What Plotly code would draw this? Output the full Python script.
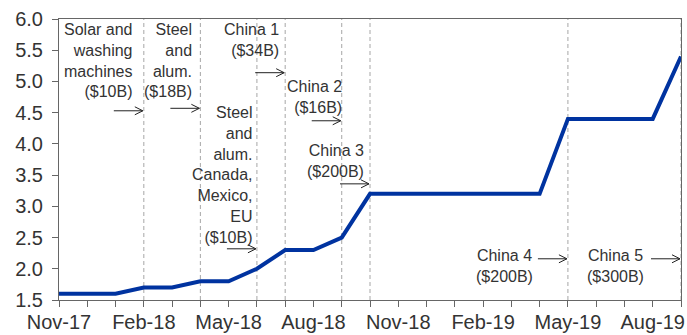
import plotly.graph_objects as go

months = ["Nov-17", "Dec-17", "Jan-18", "Feb-18", "Mar-18", "Apr-18", "May-18",
          "Jun-18", "Jul-18", "Aug-18", "Sep-18", "Oct-18", "Nov-18", "Dec-18",
          "Jan-19", "Feb-19", "Mar-19", "Apr-19", "May-19", "Jun-19", "Jul-19",
          "Aug-19", "Sep-19"]
values = [1.6, 1.6, 1.6, 1.7, 1.7, 1.8, 1.8, 2.0, 2.3, 2.3, 2.5, 3.2, 3.2, 3.2,
          3.2, 3.2, 3.2, 3.2, 4.4, 4.4, 4.4, 4.4, 5.4]
tick_labels = ["Nov-17", "Feb-18", "May-18", "Aug-18", "Nov-18", "Feb-19", "May-19", "Aug-19"]

event_months = ["Feb-18", "Apr-18", "Jun-18", "Jul-18", "Sep-18", "Oct-18", "May-19", "Sep-19"]
event_labels = ["Solar and<br>washing<br>machines<br>($10B)",
                "Steel<br>and<br>alum.<br>($18B)",
                "Steel<br>and<br>alum.<br>Canada,<br>Mexico,<br>EU<br>($10B)",
                "China 1<br>($34B)",
                "China 2<br>($16B)",
                "China 3<br>($200B)",
                "China 4<br>($200B)",
                "China 5<br>($300B)"]
# label centre heights and arrow heights (in y-axis units)
label_y = [5.34, 5.34, 3.50, 5.66, 4.75, 3.72, 2.04, 2.04]
arrow_y = [4.53, 4.57, 2.32, 5.14, 4.37, 3.36, 2.16, 2.16]
label_anchor = ["right", "right", "right", "right", "right", "right", "center", "center"]
label_shift = [-9, -6, -2, -4, 2, -4, -63, -66]

idx = list(range(len(months)))
font = "Liberation Sans, Arial, sans-serif"

fig = go.Figure()
fig.add_trace(go.Scatter(x=idx, y=values, mode="lines",
                         line=dict(color="#0033a0", width=4), hoverinfo="skip"))

for m, lab, ly, ay, anc, sh in zip(event_months, event_labels, label_y, arrow_y,
                                   label_anchor, label_shift):
    xi = months.index(m)
    fig.add_shape(type="line", x0=xi, x1=xi, y0=0, y1=1, xref="x", yref="paper",
                  line=dict(color="#a6a6a6", width=1, dash="4px,3px"), layer="below")
    fig.add_shape(type="path", xref="x", yref="y", xsizemode="pixel", ysizemode="pixel",
                  xanchor=xi, yanchor=ay,
                  path="M-30,0 L-1,0 M-9,-4 L-1,0 L-9,4",
                  line=dict(color="#222222", width=1))
    fig.add_annotation(x=xi, y=ly, xref="x", yref="y", text=lab, showarrow=False,
                       xanchor=anc, yanchor="middle", align="right" if anc == "right" else "center",
                       xshift=sh, font=dict(family=font, size=16, color="#333333"))

fig.update_layout(
    width=687, height=335,
    margin=dict(l=59, r=6, t=19, b=35),
    plot_bgcolor="white", paper_bgcolor="white",
    showlegend=False,
    font=dict(family=font, color="#333333"),
)
fig.update_xaxes(range=[0, len(months) - 1], tickmode="array", tickvals=idx,
                 ticktext=[m if m in tick_labels else "" for m in months],
                 ticks="outside", ticklen=6, tickcolor="#666666", automargin=False,
                 ticklabelstandoff=-2,
                 showline=True, linecolor="#666666", mirror=True, showgrid=False,
                 zeroline=False, tickfont=dict(size=20, color="#333333", family=font))
fig.update_yaxes(range=[1.5, 6.0], dtick=0.5, tick0=1.5, tickformat=".1f",
                 ticks="outside", ticklen=6, tickcolor="#666666", automargin=False,
                 ticklabelstandoff=5,
                 showline=True, linecolor="#666666", mirror=True, showgrid=False,
                 zeroline=False, tickfont=dict(size=20, color="#333333", family=font))

fig.write_html("out.html")
